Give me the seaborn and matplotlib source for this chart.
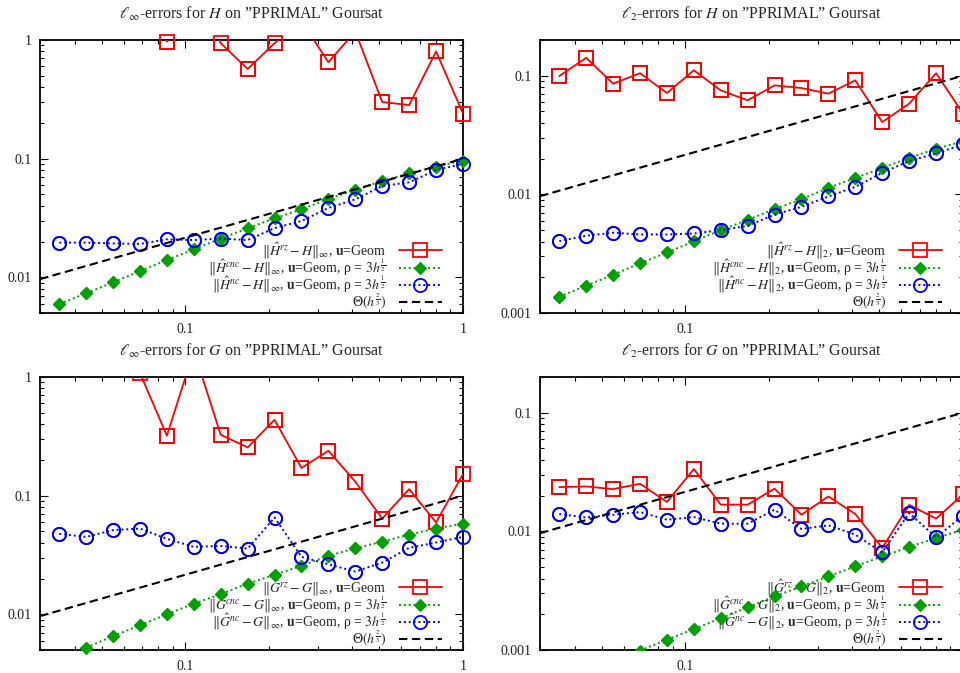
import numpy as np
import pandas as pd
import matplotlib
matplotlib.use("Agg")
import matplotlib.pyplot as plt
import seaborn as sns
from matplotlib.ticker import LogLocator, FuncFormatter, NullFormatter

sns.set_theme(style="white")
plt.rcParams["font.family"] = ["Liberation Serif", "DejaVu Serif"]
plt.rcParams["mathtext.fontset"] = "stix"

# ---------------- data ----------------
h = [0.0352, 0.0440, 0.0550, 0.0687, 0.0859, 0.1074, 0.1342, 0.1678,
     0.2097, 0.2621, 0.3277, 0.4096, 0.5120, 0.6400, 0.8000, 1.0000]

# l_inf errors for H
Hinf_rz = [2.5, 3.0, 2.2, 3.0, 0.97, 3.0, 0.94, 0.57,
           0.94, 1.44, 0.65, 1.18, 0.30, 0.283, 0.80, 0.24]
Hinf_cnc = [0.00596, 0.00733, 0.00908, 0.01125, 0.0140, 0.0172, 0.0212, 0.0259,
            0.0314, 0.0374, 0.0457, 0.0544, 0.0649, 0.0752, 0.0857, 0.0962]
Hinf_nc = [0.0196, 0.0196, 0.0193, 0.0191, 0.0209, 0.0206, 0.0212, 0.0206,
           0.0260, 0.0298, 0.0384, 0.0454, 0.0589, 0.0632, 0.0802, 0.0902]

# l_2 errors for H
H2_rz = [0.0993, 0.1415, 0.0857, 0.105, 0.0715, 0.111, 0.0753, 0.0620,
         0.0829, 0.0787, 0.0706, 0.0914, 0.0407, 0.0581, 0.105, 0.048]
H2_cnc = [0.00137, 0.00170, 0.00210, 0.00262, 0.00324, 0.00401, 0.00499, 0.00610,
          0.00750, 0.00910, 0.01134, 0.01377, 0.0167, 0.0203, 0.0242, 0.0280]
H2_nc = [0.00404, 0.00448, 0.00475, 0.00459, 0.00459, 0.00468, 0.00499, 0.00543,
         0.00676, 0.00785, 0.00960, 0.01157, 0.0152, 0.0191, 0.0221, 0.0264]

# l_inf errors for G
Ginf_rz = [2.0, 2.5, 2.0, 1.08, 0.320, 1.66, 0.326, 0.255,
           0.436, 0.171, 0.239, 0.131, 0.0641, 0.1135, 0.0594, 0.152]
Ginf_cnc = [0.0042, 0.00523, 0.00656, 0.00807, 0.0100, 0.0123, 0.01476, 0.01815,
            0.0215, 0.0256, 0.0311, 0.0360, 0.0410, 0.0470, 0.0528, 0.0582]
Ginf_nc = [0.0476, 0.0449, 0.0512, 0.0528, 0.0432, 0.0370, 0.0377, 0.0358,
           0.0654, 0.0305, 0.0264, 0.0229, 0.0273, 0.0363, 0.0403, 0.0449]

# l_2 errors for G
G2_rz = [0.0236, 0.0239, 0.0227, 0.0252, 0.0177, 0.0335, 0.0168, 0.0168,
         0.0229, 0.0138, 0.0197, 0.0140, 0.00724, 0.0167, 0.0128, 0.0205]
G2_cnc = [0.00060, 0.00072, 0.00082, 0.00099, 0.00122, 0.00150, 0.00185, 0.00229,
          0.00283, 0.00344, 0.00418, 0.00507, 0.00615, 0.00738, 0.00879, 0.0103]
G2_nc = [0.0140, 0.0131, 0.0138, 0.01455, 0.01254, 0.0132, 0.01161, 0.01161,
         0.01524, 0.01047, 0.01124, 0.00937, 0.00665, 0.01426, 0.00889, 0.0136]

# reference slope line Theta(h^(2/3)) endpoints
theta_h = [0.03, 1.0]
theta_v = [0.00965, 0.1]

titles = [r"$\ell_\infty$-errors for $H$ on ”PPRIMAL” Goursat",
          r"$\ell_2$-errors for $H$ on ”PPRIMAL” Goursat",
          r"$\ell_\infty$-errors for $G$ on ”PPRIMAL” Goursat",
          r"$\ell_2$-errors for $G$ on ”PPRIMAL” Goursat"]

def labels(f, norm):
    return [r"$\Vert\hat{%s}^{rz}-%s\Vert_{%s}$, $\mathbf{u}$=Geom" % (f, f, norm),
            r"$\Vert\hat{%s}^{cnc}-%s\Vert_{%s}$, $\mathbf{u}$=Geom, ρ = $3h^{\frac{1}{2}}$" % (f, f, norm),
            r"$\Vert\hat{%s}^{nc}-%s\Vert_{%s}$, $\mathbf{u}$=Geom, ρ = $3h^{\frac{1}{2}}$" % (f, f, norm),
            r"$\Theta(h^{\frac{2}{3}})$"]

panels = [
    (Hinf_rz, Hinf_cnc, Hinf_nc, (0.005, 1.0), labels("H", r"\infty")),
    (H2_rz, H2_cnc, H2_nc, (0.001, 0.2), labels("H", "2")),
    (Ginf_rz, Ginf_cnc, Ginf_nc, (0.005, 1.0), labels("G", r"\infty")),
    (G2_rz, G2_cnc, G2_nc, (0.001, 0.2), labels("G", "2")),
]

W, H_ = 960, 673
fig = plt.figure(figsize=(9.6, 6.73), dpi=100)
aw, ah = 423 / W, 273 / H_
positions = [(40 / W, 1 - 313 / H_), (540 / W, 1 - 313 / H_),
             (40 / W, 1 - 650 / H_), (540 / W, 1 - 650 / H_)]

RED, GREEN, BLUE = "#ff0000", "#00a000", "#0000ff"
dot = (0, (1, 1.5))

styles = [
    dict(color=RED, linestyle="-", linewidth=1.3, marker="s", markersize=9.5,
         markerfacecolor="none", markeredgecolor=RED, markeredgewidth=1.3),
    dict(color=GREEN, linestyle=dot, linewidth=1.4, marker="D", markersize=5.8,
         markerfacecolor=GREEN, markeredgecolor=GREEN, markeredgewidth=0.8),
    dict(color=BLUE, linestyle=dot, linewidth=1.4, marker="o", markersize=9.5,
         markerfacecolor="none", markeredgecolor=BLUE, markeredgewidth=1.3),
]

fmt = FuncFormatter(lambda v, p: "%g" % v)
# right-hand panels run past the picture edge: their "1" label is not shown
fmt_right = FuncFormatter(lambda v, p: "" if v >= 0.99 else "%g" % v)

for i, (rz, cnc, nc, ylim, labs) in enumerate(panels):
    ax = fig.add_axes([positions[i][0], positions[i][1], aw, ah])
    ax.set_xscale("log")
    ax.set_yscale("log")
    ax.set_xlim(0.03, 1.0)
    ax.set_ylim(*ylim)
    handles = []
    for vals, st, lab in zip([rz, cnc, nc], styles, labs[:3]):
        df = pd.DataFrame({"h": h, "err": vals})
        sns.lineplot(data=df, x="h", y="err", ax=ax, label=lab, zorder=3,
                     estimator=None, sort=False, legend=False, **st)
        handles.append(ax.lines[-1])
        # markers of in-range points drawn unclipped (gnuplot-like)
        inr = df[(df["err"] >= ylim[0]) & (df["err"] <= ylim[1])]
        mk = {k: v for k, v in st.items() if k not in ("linestyle", "linewidth")}
        sns.lineplot(data=inr, x="h", y="err", ax=ax, linestyle="none", zorder=3,
                     estimator=None, sort=False, legend=False, clip_on=False, **mk)
    sns.lineplot(x=theta_h, y=theta_v, ax=ax, color="black", linestyle=(0, (4, 2.2)),
                 linewidth=1.5, zorder=4, estimator=None, legend=False, label=labs[3])
    handles.append(ax.lines[-1])

    ax.xaxis.set_major_locator(LogLocator(base=10, numticks=10))
    ax.yaxis.set_major_locator(LogLocator(base=10, numticks=10))
    ax.xaxis.set_minor_locator(LogLocator(base=10, subs=np.arange(2, 10), numticks=20))
    ax.yaxis.set_minor_locator(LogLocator(base=10, subs=np.arange(2, 10), numticks=20))
    ax.xaxis.set_major_formatter(fmt_right if i % 2 == 1 else fmt)
    ax.yaxis.set_major_formatter(fmt)
    ax.xaxis.set_minor_formatter(NullFormatter())
    ax.yaxis.set_minor_formatter(NullFormatter())
    ax.tick_params(which="both", direction="in", top=True, right=True,
                   bottom=True, left=True, color="black", width=0.8)
    ax.tick_params(which="major", length=6, labelsize=10, labelcolor="#222222")
    ax.tick_params(which="minor", length=3)
    ax.tick_params(axis="x", pad=7)
    ax.tick_params(axis="y", pad=6)
    ax.set_xlabel("")
    ax.set_ylabel("")
    for s in ax.spines.values():
        s.set_color("black")
        s.set_linewidth(1.3)
        s.set_visible(True)
    ax.set_title(titles[i], fontsize=11.5, pad=15)

    leg = ax.legend(handles=handles, labels=labs, loc="lower right",
                    bbox_to_anchor=(0.95, 0.005), frameon=False, markerfirst=False,
                    fontsize=10, handlelength=3.1, handletextpad=0.9,
                    labelspacing=-0.28, borderpad=0, borderaxespad=0, numpoints=1)
    leg.set_zorder(1)

fig.savefig("out.png", dpi=100)
